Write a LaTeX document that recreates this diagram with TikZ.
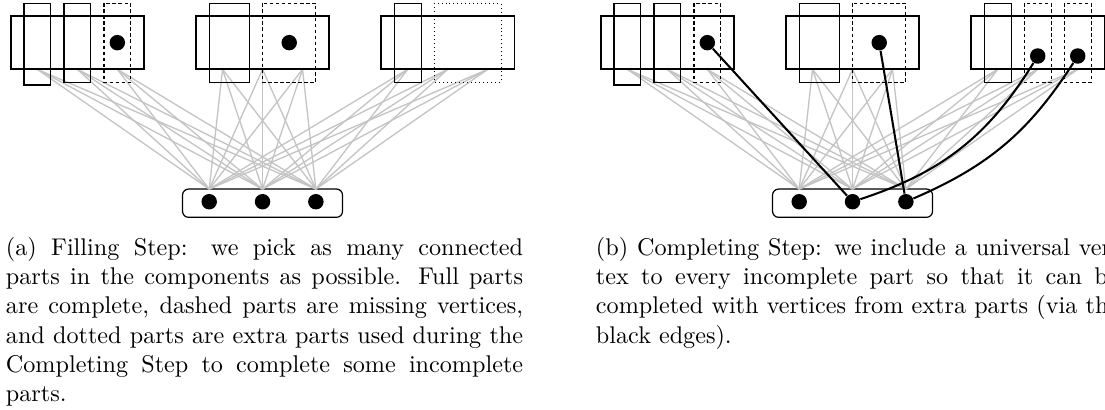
\documentclass[tikz,border=0pt]{standalone}
\begin{document}
\begin{tikzpicture}[x=5.517pt,y=-5.517pt,
  comp/.style={line width=0.7pt},
  part/.style={line width=0.45pt},
  dashedpart/.style={part, dash pattern=on 1.4pt off 1.1pt},
  dottedpart/.style={part, dash pattern=on 0.4pt off 1.25pt},
  grayedge/.style={draw=black!23, line width=0.55pt},
  blackedge/.style={line width=0.85pt},
  dot/.style={circle, fill=black, inner sep=0pt, minimum size=6.4pt},
  bottombox/.style={draw, rounded corners=2.5pt, line width=0.5pt, minimum width=66.2pt, minimum height=11.7pt, inner sep=0pt},
  caption/.style={anchor=base west, inner sep=0pt}]
\useasboundingbox (0,0) rectangle (82.875,30.75);
\clip (0,0) rectangle (82.875,30.75);
\foreach \p/\ox in {a/0,b/44.25}{
  % gray edges endpoints
  \foreach \i/\L in {1/0.8,2/14.69,3/28.58}{
    \foreach \k/\dx in {1/2,2/5,3/8}{
      \coordinate (\p-c\i-t\k) at (\ox+\L+\dx,5.2);
    }
  }
  \node[bottombox] (\p-box) at (\ox+19.69,15.24) {};
  \foreach \j/\dx in {1/-4,2/0,3/4}{
    \coordinate (\p-b\j) at (\ox+19.69+\dx,14.18);
    \node[dot] (\p-v\j) at (\ox+19.69+\dx,15.13) {};
  }
  \foreach \i in {1,2,3}{
    \foreach \k in {1,2,3}{
      \foreach \j in {1,2,3}{
        \draw[grayedge] (\p-c\i-t\k) -- (\p-b\j);
      }
    }
  }
  % component 1
  \draw[comp] (\ox+0.8,1.2) rectangle (\ox+10.8,5.2);
  \draw[part] (\ox+1.8,0.25) rectangle (\ox+3.8,6.375);
  \draw[part] (\ox+4.8,0.25) rectangle (\ox+6.8,6.17);
  \draw[dashedpart] (\ox+7.8,0.25) rectangle (\ox+9.8,6.17);
  \node[dot] (\p-d1) at (\ox+8.8,3.2) {};
  % component 2
  \draw[comp] (\ox+14.69,1.2) rectangle (\ox+24.69,5.2);
  \draw[part] (\ox+15.69,0.25) rectangle (\ox+18.69,6.17);
  \draw[dashedpart] (\ox+19.69,0.25) rectangle (\ox+23.69,6.17);
  \node[dot] (\p-d2) at (\ox+21.69,3.2) {};
  % component 3
  \draw[comp] (\ox+28.58,1.2) rectangle (\ox+38.58,5.2);
  \draw[part] (\ox+29.58,0.25) rectangle (\ox+31.58,6.17);
}
\draw[dottedpart] (32.58,0.25) rectangle (37.58,6.17);
\draw[dashedpart] (76.83,0.25) rectangle (78.83,6.17);
\draw[dashedpart] (79.83,0.25) rectangle (81.83,6.17);
\node[dot] (b-d3) at (77.83,4.2) {};
\node[dot] (b-d4) at (80.83,4.2) {};
% black edges
\draw[blackedge] (b-d1) -- (b-v2);
\draw[blackedge] (b-d2) -- (b-v3);
\draw[blackedge] (b-v2) to[bend right=20] (b-d3);
\draw[blackedge] (b-v3) to[bend right=17] (b-d4);
% captions
\node[caption] (capa) at (0.41,19.2) {\parbox[t]{214pt}{%
\hbox to\hsize{(a) Filling Step: we pick as many connected}%
\hbox to\hsize{parts in the components as possible. Full parts}%
\hbox to\hsize{are complete, dashed parts are missing vertices,}%
\hbox to\hsize{and dotted parts are extra parts used during the}%
\hbox to\hsize{Completing Step to complete some incomplete}%
\hbox{parts.}}};
\node[caption] (capb) at (44.66,19.2) {\parbox[t]{216.5pt}{%
\hbox to\hsize{(b) Completing Step: we include a universal ver-}%
\hbox to\hsize{tex to every incomplete part so that it can be}%
\hbox to\hsize{completed with vertices from extra parts (via the}%
\hbox{black edges).}}};
\end{tikzpicture}
\end{document}
